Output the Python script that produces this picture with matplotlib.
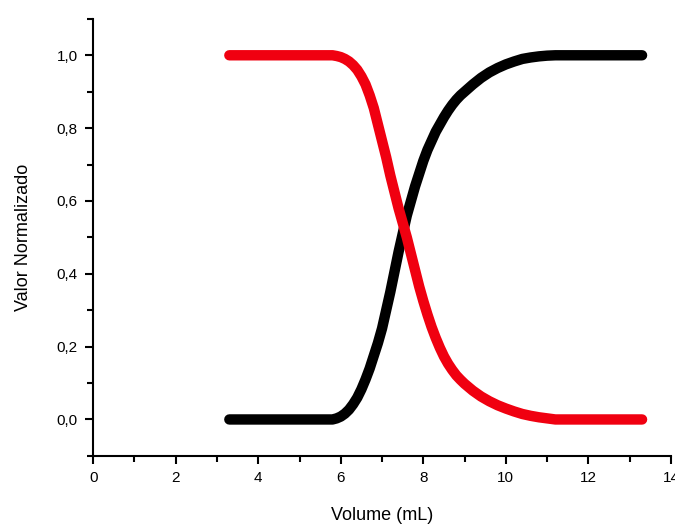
import matplotlib
matplotlib.use("Agg")
import matplotlib.pyplot as plt
from matplotlib.ticker import MultipleLocator, FuncFormatter

plt.rcParams['font.family'] = ['Liberation Sans', 'DejaVu Sans']

# normalised curves vs. added volume
vol_black = [3.3, 5.8, 5.9, 6.0, 6.1, 6.2, 6.3, 6.4, 6.5, 6.6, 6.7, 6.8, 6.9, 7.0,
             7.1, 7.2, 7.3, 7.4, 7.5, 7.6, 7.7, 7.8, 7.9, 8.0, 8.1, 8.2, 8.3, 8.4,
             8.5, 8.6, 8.7, 8.8, 8.9, 9.0, 9.2, 9.4, 9.6, 9.8, 10.0, 10.2, 10.4,
             10.6, 10.8, 11.0, 11.2, 13.3]
val_black = [0.0, 0.0, 0.003, 0.008, 0.016, 0.027, 0.042, 0.06, 0.083, 0.11, 0.14, 0.175, 0.21, 0.25,
             0.30, 0.35, 0.405, 0.46, 0.51, 0.56, 0.60, 0.64, 0.675, 0.71, 0.74, 0.765, 0.79, 0.81,
             0.83, 0.848, 0.864, 0.878, 0.89, 0.90, 0.92, 0.938, 0.953, 0.965, 0.975, 0.983, 0.99,
             0.994, 0.997, 0.999, 1.0, 1.0]

vol_red = [3.3, 5.8, 5.9, 6.0, 6.1, 6.2, 6.3, 6.4, 6.5, 6.6, 6.7, 6.8, 6.9, 7.0,
           7.1, 7.2, 7.3, 7.4, 7.5, 7.6, 7.7, 7.8, 7.9, 8.0, 8.1, 8.2, 8.3, 8.4,
           8.5, 8.6, 8.7, 8.8, 8.9, 9.0, 9.2, 9.4, 9.6, 9.8, 10.0, 10.2, 10.4,
           10.6, 10.8, 11.0, 11.2, 13.3]
val_red = [1.0, 1.0, 0.998, 0.995, 0.99, 0.983, 0.973, 0.96, 0.942, 0.92, 0.89, 0.855, 0.81, 0.765,
           0.72, 0.67, 0.625, 0.58, 0.54, 0.50, 0.455, 0.41, 0.365, 0.325, 0.288, 0.254, 0.224, 0.197,
           0.173, 0.153, 0.136, 0.121, 0.109, 0.098, 0.079, 0.063, 0.05, 0.039, 0.03, 0.022, 0.015,
           0.01, 0.006, 0.003, 0.0, 0.0]

x_ticks = [0, 2, 4, 6, 8, 10, 12, 14]
y_ticks = [0.0, 0.2, 0.4, 0.6, 0.8, 1.0]

fig = plt.figure(figsize=(6.75, 5.24), dpi=100)
ax = fig.add_axes([0.138, 0.13, 0.856, 0.834])

ax.plot(vol_black, val_black, color='black', lw=7.5, solid_capstyle='round', solid_joinstyle='round')
ax.plot(vol_red, val_red, color='#f00010', lw=7.5, solid_capstyle='round', solid_joinstyle='round')

ax.set_xlim(0, 14)
ax.set_ylim(-0.1, 1.1)
ax.set_xticks(x_ticks)
ax.set_yticks(y_ticks)
ax.xaxis.set_minor_locator(MultipleLocator(1))
ax.yaxis.set_minor_locator(MultipleLocator(0.1))
ax.yaxis.set_major_formatter(FuncFormatter(lambda v, p: f"{v:.1f}".replace('.', ',')))

for s in ['top', 'right']:
    ax.spines[s].set_visible(False)
for s in ['left', 'bottom']:
    ax.spines[s].set_linewidth(1.5)
ax.tick_params(which='major', direction='out', length=6, width=1.5, labelsize=11, pad=5)
ax.tick_params(which='minor', direction='out', length=4, width=1.5)

ax.set_xlabel("Volume (mL)", fontsize=13, labelpad=16)
ax.set_ylabel("Valor Normalizado", fontsize=13, labelpad=18)

fig.savefig("out.png", dpi=100)
